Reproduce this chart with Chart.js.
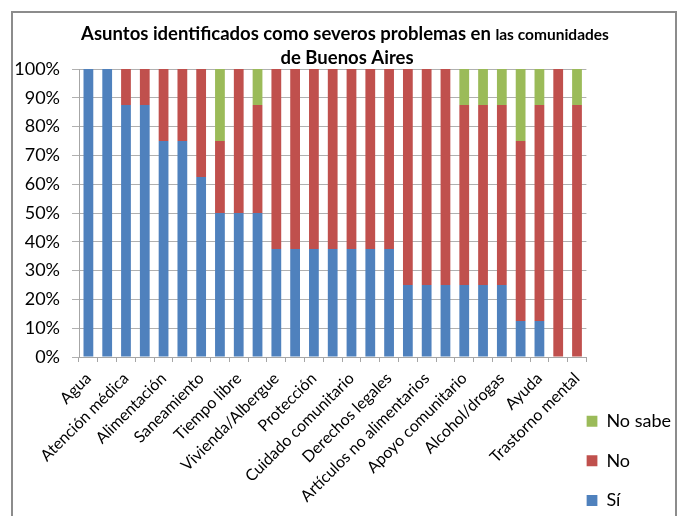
<!DOCTYPE html>
<html>
<head>
<meta charset="utf-8">
<script src="https://cdn.jsdelivr.net/npm/chart.js@4/dist/chart.umd.min.js"></script>
<style>
  body { margin: 0; background: #fff; }
  #wrap { position: relative; width: 681px; height: 516px; overflow: hidden; }
  #frame { position: absolute; left: 11px; top: 11px; width: 662px; height: 520px;
           border: 2px solid #8c8c8c; pointer-events: none; }
</style>
</head>
<body>
<div id="wrap">
  <canvas id="chart" width="681" height="516"></canvas>
  <div id="frame"></div>
</div>
<script>
// only every second category name is printed on the axis in the original
const categories = [
    'Agua', '', 'Atención médica', '', 'Alimentación', '', 'Saneamiento', '',
    'Tiempo libre', '', 'Vivienda/Albergue', '', 'Protección', '',
    'Cuidado comunitario', '', 'Derechos legales', '', 'Artículos no alimentarios', '',
    'Apoyo comunitario', '', 'Alcohol/drogas', '', 'Ayuda', '', 'Trastorno mental'
];
const si = [100, 100, 87.5, 87.5, 75, 75, 62.5, 50, 50, 50, 37.5, 37.5, 37.5, 37.5,
    37.5, 37.5, 37.5, 25, 25, 25, 25, 25, 25, 12.5, 12.5, 0, 0];
const no = [0, 0, 12.5, 12.5, 25, 25, 37.5, 25, 50, 37.5, 62.5, 62.5, 62.5, 62.5,
    62.5, 62.5, 62.5, 75, 75, 75, 62.5, 62.5, 62.5, 62.5, 75, 100, 87.5];
const noSabe = [0, 0, 0, 0, 0, 0, 0, 25, 0, 12.5, 0, 0, 0, 0,
    0, 0, 0, 0, 0, 0, 12.5, 12.5, 12.5, 25, 12.5, 0, 12.5];
const yTicks = [0, 10, 20, 30, 40, 50, 60, 70, 80, 90, 100];

// title has two font sizes on its first line, so it is drawn by hand
const titlePlugin = {
    id: 'mixedTitle',
    afterDraw(chart) {
        const ctx = chart.ctx;
        const big = 'bold 18.5px Lato';
        const small = 'bold 15.5px Lato';
        const part1 = 'Asuntos identificados como severos problemas en ';
        const part2 = 'las comunidades';
        ctx.save();
        ctx.fillStyle = '#000';
        ctx.textBaseline = 'alphabetic';
        ctx.font = big;
        const w1 = ctx.measureText(part1).width;
        ctx.font = small;
        const w2 = ctx.measureText(part2).width;
        const x = 345 - (w1 + w2) / 2;
        ctx.font = big;
        ctx.textAlign = 'left';
        ctx.fillText(part1, x, 40);
        ctx.font = small;
        ctx.fillText(part2, x + w1, 40);
        ctx.font = big;
        ctx.textAlign = 'center';
        ctx.fillText('de Buenos Aires', 347, 64);
        ctx.restore();
    }
};

const ctx = document.getElementById('chart').getContext('2d');
new Chart(ctx, {
    type: 'bar',
    data: {
        labels: categories,
        datasets: [
            { label: 'Sí', data: si, backgroundColor: '#4F81BD' },
            { label: 'No', data: no, backgroundColor: '#C0504D' },
            { label: 'No sabe', data: noSabe, backgroundColor: '#9BBB59' }
        ]
    },
    options: {
        responsive: false,
        animation: false,
        layout: { padding: { top: 69, left: 0, right: 0, bottom: -15 } },
        datasets: { bar: { barPercentage: 0.52, categoryPercentage: 1 } },
        plugins: {
            title: { display: false },
            tooltip: { enabled: false },
            legend: {
                position: 'right',
                align: 'end',
                reverse: true,
                labels: {
                    boxWidth: 11,
                    boxHeight: 11,
                    padding: 0,
                    color: '#000',
                    font: { family: 'Lato', size: 18, lineHeight: 2.2 },
                    // single-line arrays so the row height follows lineHeight
                    generateLabels: chart =>
                        Chart.defaults.plugins.legend.labels.generateLabels(chart)
                            .map(l => Object.assign(l, { text: [l.text] }))
                }
            }
        },
        scales: {
            x: {
                stacked: true,
                afterFit: axis => { axis.height = 174; },
                grid: { drawOnChartArea: false, drawTicks: true, tickLength: 5, color: '#a6a6a6' },
                border: { color: '#a6a6a6' },
                ticks: {
                    autoSkip: false,
                    minRotation: 45,
                    maxRotation: 45,
                    padding: 7,
                    color: '#000',
                    font: { family: 'Lato', size: 16 }
                }
            },
            y: {
                stacked: true,
                min: 0,
                max: 100,
                afterFit: axis => { axis.width = 79; },
                afterBuildTicks: axis => { axis.ticks = yTicks.map(v => ({ value: v })); },
                grid: { color: '#b0b0b0', tickLength: 7 },
                border: { color: '#a6a6a6' },
                ticks: {
                    padding: 12,
                    color: '#000',
                    font: { family: 'Lato', size: 18 },
                    callback: v => v + '%'
                }
            }
        }
    },
    plugins: [titlePlugin]
});
</script>
</body>
</html>
